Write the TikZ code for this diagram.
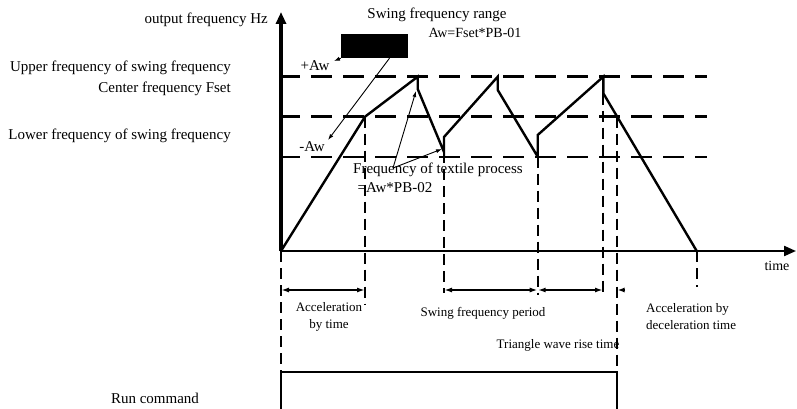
\documentclass[tikz,border=0pt]{standalone}
\usepackage{fontspec}
\setmainfont{Liberation Serif}
\usetikzlibrary{arrows.meta}

\begin{document}
\begin{tikzpicture}[x=1pt, y=-1pt,
  lab/.style={font=\fontsize{15}{17}\selectfont, inner sep=0pt},
  slab/.style={font=\fontsize{13}{17.5}\selectfont, inner sep=0pt},
  axis/.style={-{Triangle[length=12pt,width=10pt]}, line width=2.2pt},
  level/.style={line width=2.4pt, dash pattern=on 21pt off 11pt},
  vline/.style={line width=2pt, dash pattern=on 11pt off 6pt},
  wave/.style={line width=2.4pt, line join=miter},
  span/.style={{Latex[length=8pt,width=5pt]}-{Latex[length=8pt,width=5pt]}, line width=1.8pt},
  tarr/.style={-{Latex[length=6pt,width=4pt]}, line width=0.9pt}
]
\useasboundingbox (0,0) rectangle (797,409);

% ── wave points ─────────────
\coordinate (O)  at (281,251);
\coordinate (c1) at (365,116.7);
\coordinate (p1) at (417.7,76.7);
\coordinate (d1) at (417.7,89);
\coordinate (l1) at (444,152);
\coordinate (u1) at (444,137);
\coordinate (p2) at (497.7,76.7);
\coordinate (d2) at (497.7,90);
\coordinate (l2) at (537.7,156.7);
\coordinate (u2) at (537.7,135);
\coordinate (p3) at (603.3,76.7);
\coordinate (d3) at (603.3,93.3);
\coordinate (c3) at (617,116.7);
\coordinate (e)  at (696.7,251);

% ── levels ─────────────
\coordinate (hiL) at (279,76.7);  \coordinate (hiR) at (707,76.7);
\coordinate (ceL) at (279,116.7); \coordinate (ceR) at (707,116.7);
\coordinate (loL) at (279,156.7); \coordinate (loR) at (707,156.7);
\draw[level] (hiL) -- (hiR);
\draw[level] (ceL) -- (ceR);
\draw[level] (loL) -- (loR);

% ── time marks ─────────────
\draw[vline] (O)  -- (281,372);
\draw[vline] (c1) -- (365,305);
\draw[vline] (l1) -- (444,293);
\draw[vline] (l2) -- (537.7,295);
\draw[vline] (p3) -- (603.3,296);
\draw[vline] (c3) -- (617,368);
\draw[vline] (e)  -- (696.7,287);

% ── axes ─────────────
\coordinate (ytop) at (281,12);
\coordinate (xend) at (796,251);
\draw[axis, line width=3.2pt] (O) -- (ytop);
\draw[axis] (O) -- (xend);

% ── output frequency ─────────────
\draw[wave] (O) -- (c1) -- (p1) -- (d1) -- (l1) -- (u1) -- (p2) -- (d2)
  -- (l2) -- (u2) -- (p3) -- (d3) -- (e);

% ── run command ─────────────
\coordinate (r0) at (281,409); \coordinate (r1) at (281,372);
\coordinate (r2) at (617,372); \coordinate (r3) at (617,409);
\draw[line width=2pt] (r0) -- (r1) -- (r2) -- (r3);

% ── spans ─────────────
\coordinate (t0) at (281,290);   \coordinate (t1) at (365,290);
\coordinate (t2) at (444,290);   \coordinate (t3) at (537.7,290);
\coordinate (t4) at (603,290);   \coordinate (t5) at (617.5,290);
\coordinate (t6) at (625,290);
\draw[span] (t0) -- (t1);
\draw[span] (t2) -- (t3);
\draw[span] (t3) -- (t4);
\draw[-{Latex[length=7pt,width=5pt]}, line width=1.8pt] (t6) -- (t5);

% ── labels ─────────────
\node[lab, anchor=east] (yl) at (268,20) {output frequency Hz};
\node[lab, anchor=east] (up) at (231,68) {Upper frequency of swing frequency};
\node[lab, anchor=east] (ce) at (231,89) {Center frequency Fset};
\node[lab, anchor=east] (lo) at (231,136) {Lower frequency of swing frequency};
\node[lab] (run) at (155,398) {Run command};

\node[lab] (rng) at (437,15) {Swing frequency range};
\node[lab, font=\fontsize{14}{16}\selectfont] (rngv) at (475,33) {Aw=Fset*PB-01};
\node[lab] (paw) at (315,66) {+Aw};
\node[lab] (maw) at (312,147) {-Aw};

\node[fill=black, inner sep=0pt, minimum width=67pt, minimum height=24pt] (blk) at (374.5,46) {};
\coordinate (pa) at (334,61);
\coordinate (ma) at (328,140);
\draw[tarr] (blk.south west) -- (pa);
\draw[tarr] ([xshift=15pt]blk.south) -- (ma);

\node[lab] (tex) at (438,170) {Frequency of textile process};
\node[lab] (texv) at (395,188) {=Aw*PB-02};
\coordinate (ts) at (393,168);
\coordinate (tp1) at (416,91);
\coordinate (tp2) at (442,149);
\draw[tarr] (ts) -- (tp1);
\draw[tarr] (ts) -- (tp2);

\node[slab, align=center] (acc) at (329,317) {Acceleration\\by time};
\node[slab] (swp) at (483,313) {Swing frequency period};
\node[slab] (tri) at (558,345) {Triangle wave rise time};
\node[slab, align=left, anchor=west] (dec) at (646,316.5) {Acceleration by\\deceleration time};
\node[slab, font=\fontsize{14}{16}\selectfont] (tm) at (777,266) {time};
\end{tikzpicture}
\end{document}
